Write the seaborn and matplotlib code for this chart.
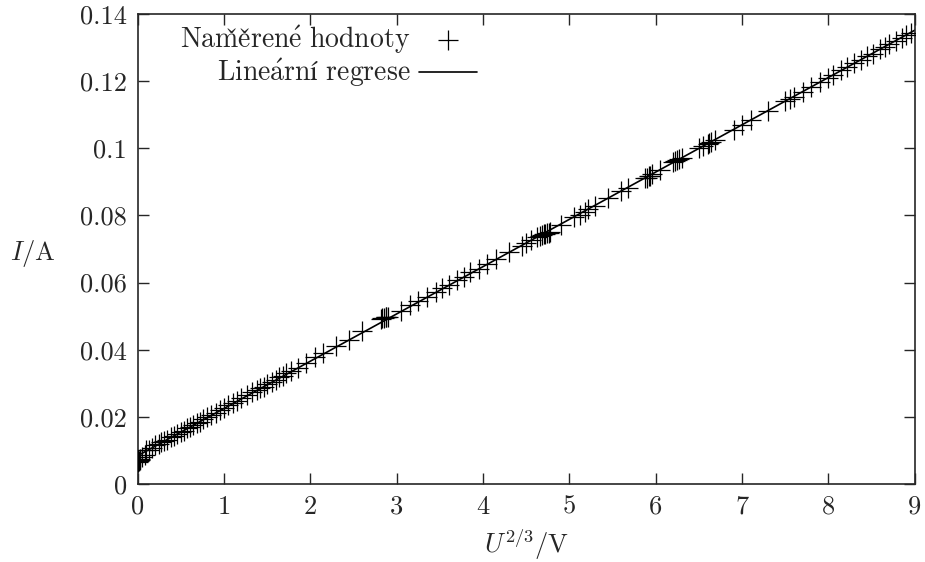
import numpy as np
import pandas as pd
import matplotlib
matplotlib.use("Agg")
import matplotlib.pyplot as plt
from matplotlib.ticker import FuncFormatter
import seaborn as sns

u23 = [0.0, 0.0, 0.01, 0.02, 0.03, 0.05, 0.08, 0.1, 0.13, 0.16, 0.2, 0.24,
       0.27, 0.3, 0.34, 0.38, 0.42, 0.45, 0.5, 0.53, 0.57, 0.6, 0.64, 0.68,
       0.72, 0.75, 0.8, 0.85, 0.9, 0.95, 1.0, 1.05, 1.1, 1.15, 1.2, 1.27,
       1.32, 1.38, 1.42, 1.46, 1.5, 1.55, 1.6, 1.64, 1.68, 1.72, 1.78, 1.85,
       1.95, 2.05, 2.15, 2.3, 2.45, 2.6, 2.82, 2.83, 2.85, 2.87, 2.88, 2.9,
       3.05, 3.15, 3.25, 3.35, 3.45, 3.52, 3.6, 3.7, 3.78, 3.85, 3.95, 4.05,
       4.15, 4.3, 4.45, 4.5, 4.55, 4.62, 4.66, 4.68, 4.7, 4.72, 4.74, 4.76,
       4.78, 4.9, 5.05, 5.12, 5.18, 5.22, 5.3, 5.45, 5.6, 5.68, 5.88, 5.9,
       5.92, 5.93, 5.95, 6.05, 6.2, 6.22, 6.25, 6.27, 6.3, 6.5, 6.55, 6.6,
       6.62, 6.64, 6.68, 6.9, 7.0, 7.1, 7.3, 7.5, 7.55, 7.6, 7.7, 7.8, 7.9,
       8.0, 8.05, 8.15, 8.22, 8.3, 8.38, 8.45, 8.52, 8.6, 8.65, 8.7, 8.78,
       8.85, 8.9, 8.95]
current = [0.0065, 0.0070, 0.0068, 0.0075, 0.0072, 0.0080, 0.0085, 0.0101,
           0.0102, 0.0106, 0.0115, 0.0118, 0.0125, 0.0128, 0.0131, 0.0141,
           0.0143, 0.0150, 0.0156, 0.0157, 0.0167, 0.0170, 0.0176, 0.0180,
           0.0185, 0.0193, 0.0198, 0.0205, 0.0212, 0.0220, 0.0226, 0.0235,
           0.0240, 0.0248, 0.0256, 0.0266, 0.0275, 0.0281, 0.0287, 0.0290,
           0.0298, 0.0305, 0.0311, 0.0317, 0.0321, 0.0330, 0.0335, 0.0346,
           0.0361, 0.0377, 0.0390, 0.0410, 0.0430, 0.0455, 0.0492, 0.0493,
           0.0495, 0.0496, 0.0497, 0.0498, 0.0516, 0.0532, 0.0545, 0.0558,
           0.0573, 0.0583, 0.0592, 0.0608, 0.0617, 0.0630, 0.0640, 0.0656,
           0.0670, 0.0692, 0.0710, 0.0718, 0.0727, 0.0735, 0.0740, 0.0743,
           0.0745, 0.0745, 0.0748, 0.0748, 0.0752, 0.0770, 0.0795, 0.0800,
           0.0810, 0.0818, 0.0828, 0.0852, 0.0873, 0.0882, 0.0910, 0.0912,
           0.0918, 0.0916, 0.0923, 0.0935, 0.0958, 0.0962, 0.0966, 0.0968,
           0.0972, 0.1000, 0.1007, 0.1012, 0.1015, 0.1020, 0.1026, 0.1055,
           0.1070, 0.1083, 0.1112, 0.1140, 0.1148, 0.1153, 0.1168, 0.1182,
           0.1197, 0.1210, 0.1218, 0.1232, 0.1241, 0.1253, 0.1264, 0.1275,
           0.1282, 0.1296, 0.1303, 0.1310, 0.1320, 0.1330, 0.1338, 0.1345]

x_ticks = [0, 1, 2, 3, 4, 5, 6, 7, 8, 9]
y_ticks = [0, 0.02, 0.04, 0.06, 0.08, 0.1, 0.12, 0.14]

# legend labels in Computer Modern (accents via mathtext)
lab_points = r"$\mathrm{Nam\check{e}\check{r}en\acute{e}\ hodnoty}$"
lab_fit = r"$\mathrm{Line\acute{a}rní\ regrese}$"

df = pd.DataFrame({"u": u23, "i": current})

sns.set_style("ticks")
plt.rcParams["font.family"] = ["cmr10", "DejaVu Serif"]
plt.rcParams["mathtext.fontset"] = "cm"
plt.rcParams["axes.formatter.use_mathtext"] = True

fig = plt.figure(figsize=(9.25, 5.62), dpi=100)
ax = fig.add_axes([0.149, 0.139, 0.840, 0.836])
ax.set_xlim(0, 9)
ax.set_ylim(0, 0.14)

sns.scatterplot(data=df, x="u", y="i", marker="+", s=200, color="black",
                linewidth=0.9, label=lab_points, ax=ax, zorder=3)
sns.regplot(data=df, x="u", y="i", scatter=False, ci=None, truncate=False,
            color="black", line_kws={"linewidth": 1.2}, label=lab_fit, ax=ax)

ax.set_xlim(0, 9)
ax.set_ylim(0, 0.14)
ax.set_xticks(x_ticks)
ax.set_yticks(y_ticks)
ax.yaxis.set_major_formatter(FuncFormatter(lambda v, p: "%g" % v))
ax.xaxis.set_major_formatter(FuncFormatter(lambda v, p: "%g" % v))
ax.tick_params(direction="in", length=8, width=1, top=True, right=True,
               labelsize=19, pad=8)
for s in ax.spines.values():
    s.set_linewidth(1.2)

ax.set_xlabel(r"$U^{2/3}$/V", fontsize=19, labelpad=6)
ax.set_ylabel(r"$I$/A", fontsize=19, rotation=0, va="center", ha="center")
ax.yaxis.set_label_coords(-0.135, 0.49)

leg = ax.legend(loc="upper left", markerfirst=False, frameon=False,
                fontsize=20, handlelength=2.1, borderaxespad=0.0,
                labelspacing=0.02, handletextpad=0.3,
                bbox_to_anchor=(0.04, 1.005))
for t in leg.get_texts():
    t.set_ha("right")

fig.savefig("out.png", dpi=100)
plt.close(fig)
